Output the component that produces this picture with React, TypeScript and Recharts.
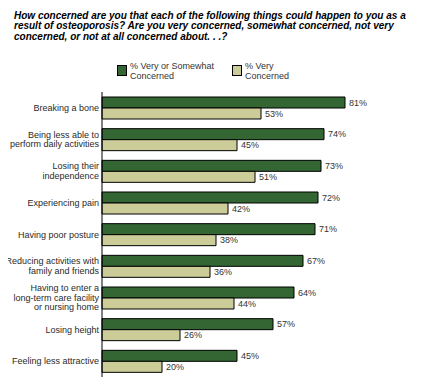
import React from "react";
import { BarChart, Bar, XAxis, YAxis, LabelList } from "recharts";

const categories: string[] = [
  "Breaking a bone",
  "Being less able to\nperform daily activities",
  "Losing their\nindependence",
  "Experiencing pain",
  "Having poor posture",
  "Reducing activities with\nfamily and friends",
  "Having to enter a\nlong-term care facility\nor nursing home",
  "Losing height",
  "Feeling less attractive",
];
const veryOrSomewhat: number[] = [81, 74, 73, 72, 71, 67, 64, 57, 45];
const very: number[] = [53, 45, 51, 42, 38, 36, 44, 26, 20];
const seriesNames = ["% Very or Somewhat\nConcerned", "% Very\nConcerned"];
const titleLines = [
  "How concerned are you that each of the following things could happen to you as a",
  "result of osteoporosis? Are you very concerned, somewhat concerned, not very",
  "concerned, or not at all concerned about. . .?",
];

const GREEN = "#336633";
const TAN = "#CCCC99";
const FONT = "'Liberation Sans', Arial, sans-serif";

const data = categories.map((c, i) => ({
  name: c,
  vs: veryOrSomewhat[i],
  v: very[i],
}));

const CategoryTick = (props: any) => {
  const { x, y, payload } = props;
  const lines = String(payload.value).split("\n");
  const pitch = 9.5;
  const start = y - ((lines.length - 1) * pitch) / 2 + 3;
  return (
    <text x={x} y={start} textAnchor="end" fontSize={9} fill="#2a2a2a" fontFamily={FONT}>
      {lines.map((l, i) => (
        <tspan key={i} x={x} y={start + i * pitch}>
          {l}
        </tspan>
      ))}
    </text>
  );
};

const LegendItem = ({ color, label, left }: { color: string; label: string; left: number }) => (
  <div style={{ position: "absolute", left, top: 62, display: "flex", alignItems: "flex-start" }}>
    <div
      style={{
        width: 8,
        height: 9,
        background: color,
        border: "1px solid #000",
        marginTop: 3,
        marginRight: 3,
      }}
    />
    <div style={{ fontSize: 9, lineHeight: "9.5px", color: "#333", fontFamily: FONT, whiteSpace: "pre" }}>
      {label}
    </div>
  </div>
);

export default function App() {
  return (
    <div style={{ position: "relative", width: 440, height: 390, margin: -8, background: "#fff" }}>
      <div
        style={{
          position: "absolute",
          left: 14,
          top: 10.5,
          fontFamily: FONT,
          fontWeight: "bold",
          fontStyle: "italic",
          fontSize: 10,
          lineHeight: "10.7px",
          color: "#000",
          whiteSpace: "nowrap",
        }}
      >
        {titleLines.map((l, i) => (
          <div key={i}>{l}</div>
        ))}
      </div>
      <LegendItem color={GREEN} label={seriesNames[0]} left={117} />
      <LegendItem color={TAN} label={seriesNames[1]} left={232} />
      <div style={{ position: "absolute", left: 0, top: 0 }}>
        <BarChart
          width={440}
          height={390}
          data={data}
          layout="vertical"
          margin={{ top: 92, right: 38, bottom: 13, left: 0 }}
          barGap={0}
          style={{ overflow: "visible" }}
        >
          <XAxis type="number" domain={[0, 100]} hide />
          <YAxis
            type="category"
            dataKey="name"
            width={102}
            axisLine={{ stroke: "#000" }}
            tickLine={false}
            tickSize={0}
            tickMargin={3}
            interval={0}
            tick={<CategoryTick />}
          />
          <Bar dataKey="vs" fill={GREEN} stroke="#000" strokeWidth={1} barSize={11} isAnimationActive={false}>
            <LabelList
              dataKey="vs"
              position="right"
              offset={4}
              fontSize={9}
              fill="#333"
              fontFamily={FONT}
              formatter={(v: any) => `${v}%`}
            />
          </Bar>
          <Bar dataKey="v" fill={TAN} stroke="#000" strokeWidth={1} barSize={11} isAnimationActive={false}>
            <LabelList
              dataKey="v"
              position="right"
              offset={4}
              fontSize={9}
              fill="#333"
              fontFamily={FONT}
              formatter={(v: any) => `${v}%`}
            />
          </Bar>
        </BarChart>
      </div>
    </div>
  );
}
